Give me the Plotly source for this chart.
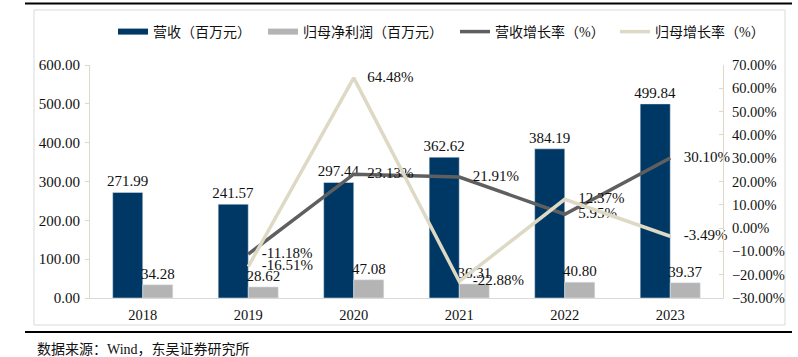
import plotly.graph_objects as go

years = ["2018", "2019", "2020", "2021", "2022", "2023"]
revenue = [271.99, 241.57, 297.44, 362.62, 384.19, 499.84]
profit = [34.28, 28.62, 47.08, 36.31, 40.80, 39.37]
rev_growth = [None, -11.18, 23.13, 21.91, 5.95, 30.10]
profit_growth = [None, -16.51, 64.48, -22.88, 12.37, -3.49]

names = ["营收（百万元）", "归母净利润（百万元）", "营收增长率（%）", "归母增长率（%）"]
c_rev, c_pro, c_rg, c_pg = "#003865", "#B4B4B4", "#5F5F5F", "#DDD9C4"

FONT = "Liberation Serif, Times New Roman, Noto Sans CJK SC, serif"
TXT = "#111111"

# plot area pixels
L, R, T, B = 90, 723, 65, 298
W, H = 798, 357
pw, ph = R - L, B - T
def px(x): return (x - L) / pw
def py(y): return (B - y) / ph

fig = go.Figure()
fig.add_trace(go.Bar(x=years, y=revenue, name=names[0], marker_color=c_rev, showlegend=False,
                     texttemplate="%{y:.2f}", textposition="outside", constraintext="none",
                     cliponaxis=False, textfont=dict(size=15, color=TXT, family=FONT)))
fig.add_trace(go.Bar(x=years, y=profit, name=names[1], marker_color=c_pro, showlegend=False,
                     texttemplate="%{y:.2f}", textposition="outside", constraintext="none",
                     cliponaxis=False, textfont=dict(size=15, color=TXT, family=FONT)))
fig.add_trace(go.Scatter(x=years, y=rev_growth, name=names[2], yaxis="y2", mode="lines+markers+text",
                         line=dict(color=c_rg, width=3.5), marker=dict(size=20, opacity=0),
                         showlegend=False,
                         texttemplate="%{y:.2f}%", textposition="middle right", cliponaxis=False,
                         textfont=dict(size=15, color=TXT, family=FONT)))
fig.add_trace(go.Scatter(x=years, y=profit_growth, name=names[3], yaxis="y2", mode="lines+markers+text",
                         line=dict(color=c_pg, width=3.5), marker=dict(size=20, opacity=0),
                         showlegend=False,
                         texttemplate="%{y:.2f}%", textposition="middle right", cliponaxis=False,
                         textfont=dict(size=15, color=TXT, family=FONT)))

# legend entries, one legend each so they can be placed like the reference
leg_x = [113, 263, 455, 615]
leg_ids = ["legend", "legend2", "legend3", "legend4"]
for nm, col, w, lid in zip(names, [c_rev, c_pro, c_rg, c_pg], [6, 6, 3.5, 3.5], leg_ids):
    fig.add_trace(go.Scatter(x=[None], y=[None], mode="lines", name=nm, legend=lid,
                             line=dict(color=col, width=w)))

legend_layout = {}
for lid, lx in zip(leg_ids, leg_x):
    legend_layout[lid] = dict(orientation="h", x=px(lx), xanchor="left", y=py(32), yanchor="middle",
                              font=dict(size=14, family=FONT, color=TXT), bgcolor="rgba(0,0,0,0)")

shapes = [
    dict(type="rect", xref="paper", yref="paper", x0=px(34), x1=px(785), y0=py(325), y1=py(10),
         line=dict(color="#D9D9D9", width=1), layer="below"),
    dict(type="line", xref="paper", yref="paper", x0=px(25), x1=px(792), y0=py(3.5), y1=py(3.5),
         line=dict(color="#000000", width=2)),
    dict(type="line", xref="paper", yref="paper", x0=px(25), x1=px(792), y0=py(332), y1=py(332),
         line=dict(color="#000000", width=2)),
]

fig.update_layout(
    width=W, height=H,
    margin=dict(l=L, r=W - R, t=T, b=H - B, pad=0),
    paper_bgcolor="white", plot_bgcolor="white",
    barmode="group", bargap=0.43, bargroupgap=0,
    font=dict(family=FONT, size=15, color=TXT),
    showlegend=True,
    xaxis=dict(type="category", showline=True, linecolor="#D9D9D9", linewidth=1,
               ticks="", showgrid=False, tickfont=dict(size=14.5), ticklabelstandoff=4),
    yaxis=dict(range=[0, 600], dtick=100, tickformat=".2f", showgrid=False, zeroline=False,
               showline=True, linecolor="#DDD9C4", linewidth=1, ticks="outside", ticklen=4,
               tickcolor="#DDD9C4", tickfont=dict(size=15), ticklabelstandoff=2),
    yaxis2=dict(range=[-30, 70], dtick=10, tickformat=".2f", ticksuffix="%", overlaying="y",
                side="right", showgrid=False, zeroline=False, showline=True,
                linecolor="#DDD9C4", linewidth=1, ticks="inside", ticklen=4,
                tickcolor="#DDD9C4", tickfont=dict(size=14.5), ticklabelstandoff=5),
    shapes=shapes,
    annotations=[dict(text="数据来源：Wind，东吴证券研究所", xref="paper", yref="paper",
                      x=px(35), y=py(349), xanchor="left", yanchor="middle", showarrow=False,
                      font=dict(size=14, family=FONT, color=TXT))],
    **legend_layout,
)

fig.write_html("out.html", config={"displayModeBar": False},
               post_script="document.body.style.margin='0';")
